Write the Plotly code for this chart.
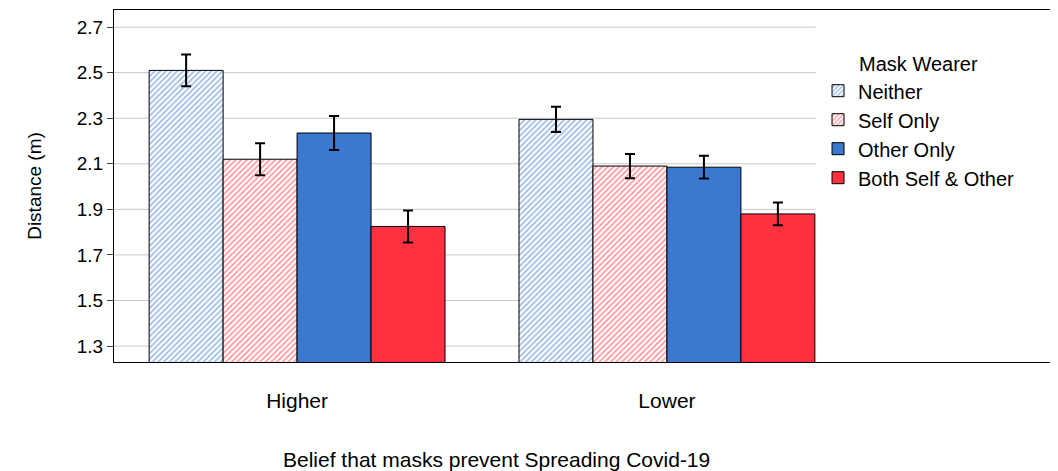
import plotly.graph_objects as go

groups = ["Higher", "Lower"]
series = ["Neither", "Self Only", "Other Only", "Both Self & Other"]
means = {
    "Neither": [2.51, 2.295],
    "Self Only": [2.12, 2.09],
    "Other Only": [2.235, 2.085],
    "Both Self & Other": [1.825, 1.88],
}
errs = {
    "Neither": [0.07, 0.055],
    "Self Only": [0.07, 0.053],
    "Other Only": [0.075, 0.05],
    "Both Self & Other": [0.07, 0.05],
}
yticks = [1.3, 1.5, 1.7, 1.9, 2.1, 2.3, 2.5, 2.7]

BLUE = "#3b78d0"
RED = "#ff3040"
styles = {
    "Neither": dict(color="white", pattern=dict(shape="/", fgcolor=BLUE, bgcolor="white", size=4, solidity=0.45)),
    "Self Only": dict(color="white", pattern=dict(shape="/", fgcolor=RED, bgcolor="white", size=4, solidity=0.45)),
    "Other Only": dict(color=BLUE),
    "Both Self & Other": dict(color=RED),
}

fig = go.Figure()
for s in series:
    m = dict(styles[s]); m["line"] = dict(color="black", width=1)
    fig.add_bar(x=groups, y=means[s], name=s, marker=m,
                error_y=dict(type="data", array=errs[s], color="black", thickness=2, width=5))

shapes = [dict(type="line", xref="x", yref="y", x0=-0.495, x1=1.402, y0=t, y1=t,
               line=dict(color="#c8c8c8", width=1), layer="below") for t in yticks]

fig.update_layout(
    width=1058, height=471, barmode="group", bargap=0.2, bargroupgap=0,
    plot_bgcolor="white", paper_bgcolor="white",
    margin=dict(l=106, r=7, t=2, b=117),
    font=dict(family="Liberation Sans, Arial", size=20, color="black"),
    shapes=shapes,
    annotations=[dict(text="Belief that masks prevent Spreading Covid-19", xref="paper", yref="paper",
                      x=0, y=0, xshift=495 - 113, yshift=-97, showarrow=False,
                      xanchor="center", yanchor="middle", font=dict(size=21))],
    xaxis=dict(type="category", range=[-0.495, 2.06], showline=True, linecolor="black", mirror=True,
               ticks="", ticklabelstandoff=20, tickfont=dict(size=21)),
    yaxis=dict(range=[1.23, 2.775], tickvals=yticks, ticktext=[f"{t:.1f}" for t in yticks],
               showgrid=False, showline=True, linecolor="black", mirror=True, ticks="outside",
               ticklen=6, zeroline=False, tickfont=dict(size=19),
               title=dict(text="Distance (m)", standoff=30, font=dict(size=19))),
    legend=dict(x=0.745, y=0.9, xanchor="left", yanchor="top",
                title=dict(text="Mask Wearer", side="top center", font=dict(size=20)),
                font=dict(size=20), bgcolor="rgba(0,0,0,0)", tracegroupgap=0, itemwidth=30),
)
fig.write_html("out.html")
